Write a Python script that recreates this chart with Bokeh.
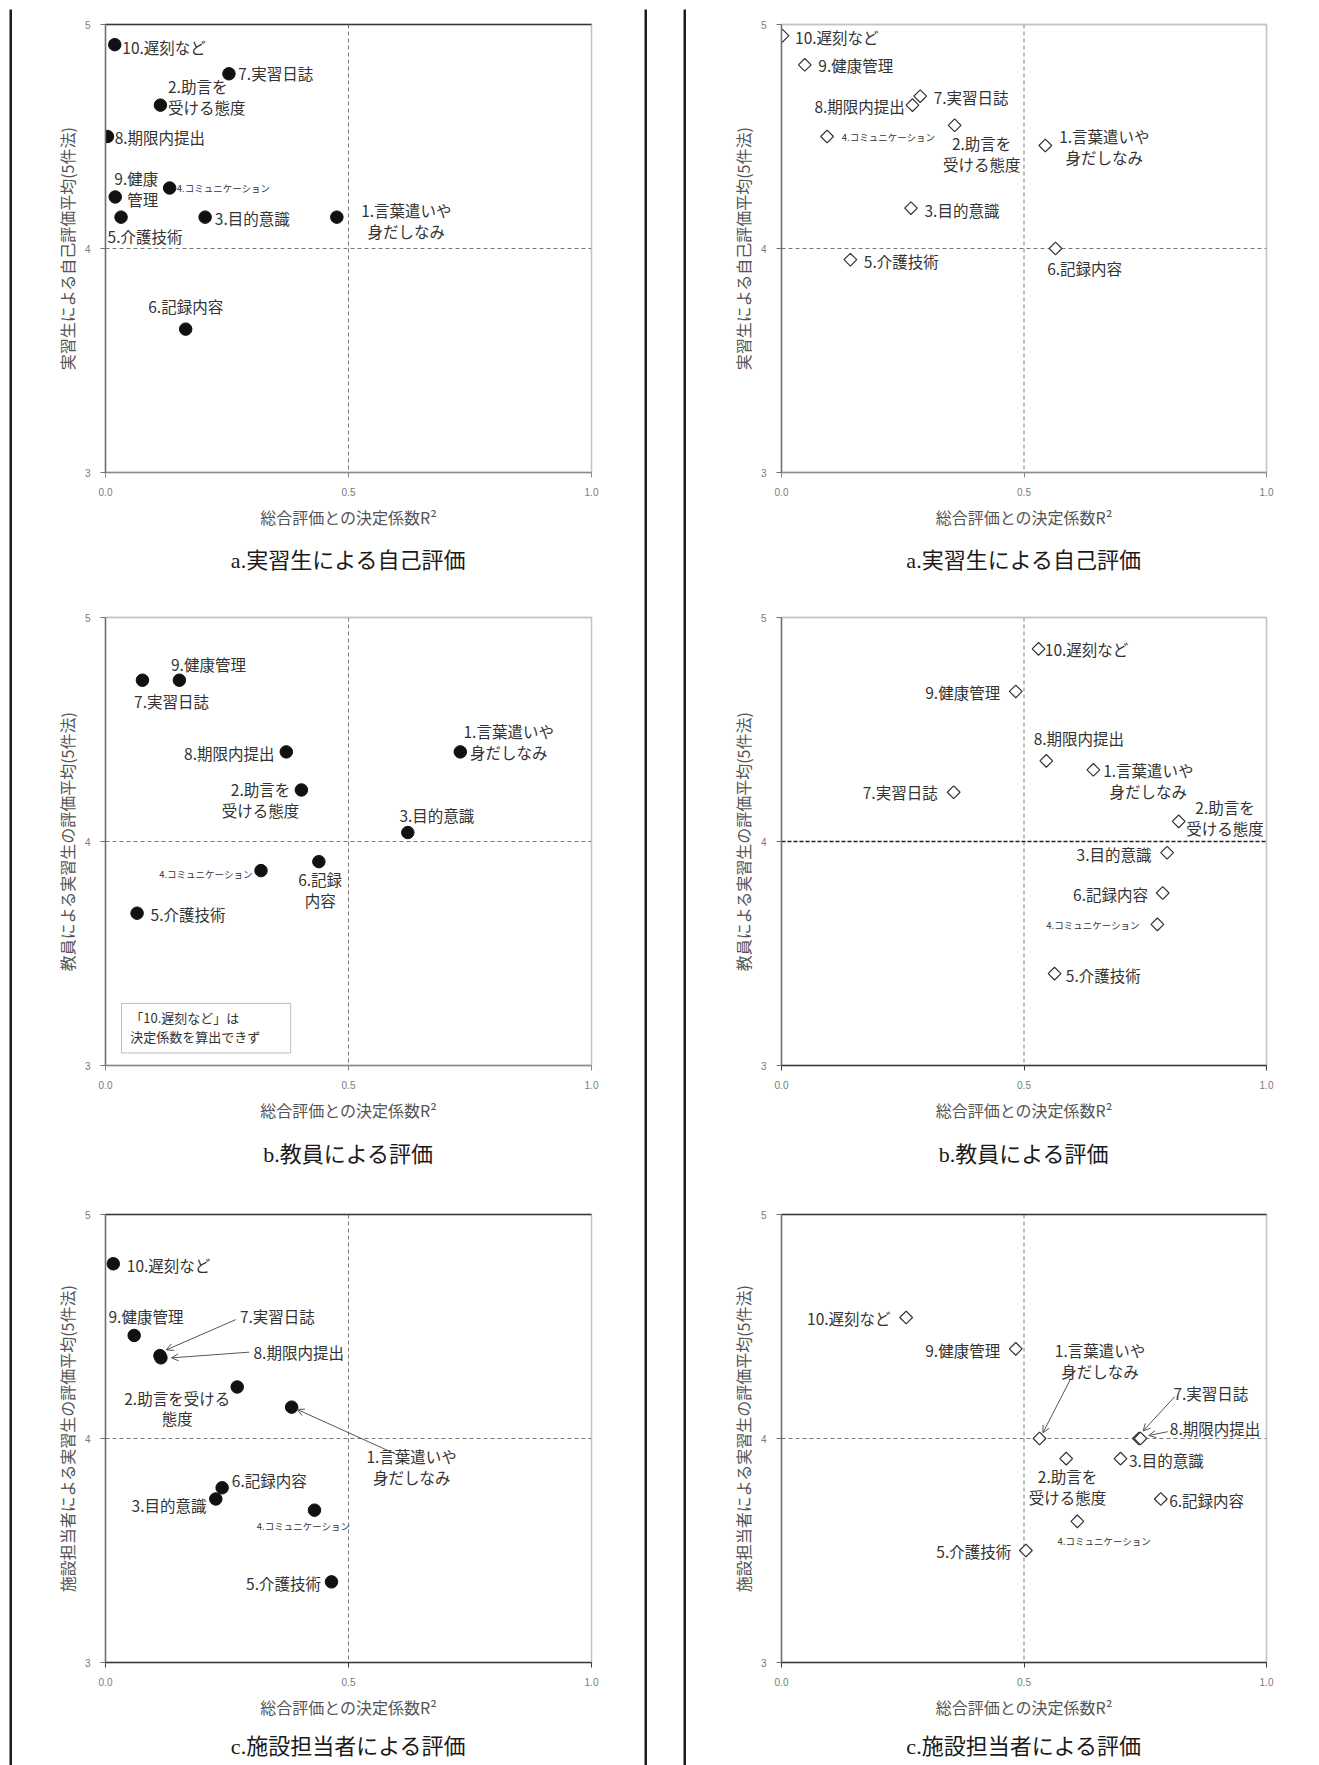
import math
from bokeh.plotting import figure
from bokeh.models import (Range1d, Span, FixedTicker, LinearAxis, Arrow, OpenHead,
                          ColumnDataSource, BoxAnnotation, Spacer, PrintfTickFormatter)
from bokeh.layouts import row, column
from bokeh.core.properties import value, field
from bokeh.embed import file_html
from bokeh.resources import INLINE

# ---------------- data (items 1..10) ----------------
X_TICKS = [0.0, 0.5, 1.0]
Y_TICKS = [3, 4, 5]
THRESH_X = 0.5
THRESH_Y = 4.0

A_L_R2   = [0.476, 0.113, 0.205, 0.132, 0.032, 0.165, 0.254, 0.004, 0.020, 0.019]
A_L_MEAN = [4.14, 4.64, 4.14, 4.27, 4.14, 3.64, 4.78, 4.50, 4.23, 4.91]
A_R_R2   = [0.544, 0.357, 0.267, 0.094, 0.142, 0.565, 0.286, 0.270, 0.048, 0.002]
A_R_MEAN = [4.46, 4.55, 4.18, 4.50, 3.95, 4.00, 4.68, 4.64, 4.82, 4.95]
B_L_R2   = [0.730, 0.403, 0.622, 0.320, 0.065, 0.439, 0.076, 0.372, 0.152, None]
B_L_MEAN = [4.40, 4.23, 4.04, 3.87, 3.68, 3.91, 4.72, 4.40, 4.72, None]
B_R_R2   = [0.643, 0.819, 0.795, 0.775, 0.563, 0.786, 0.355, 0.546, 0.483, 0.530]
B_R_MEAN = [4.32, 4.09, 3.95, 3.63, 3.41, 3.77, 4.22, 4.36, 4.67, 4.86]
C_L_R2   = [0.383, 0.271, 0.227, 0.430, 0.465, 0.240, 0.112, 0.114, 0.059, 0.016]
C_L_MEAN = [4.14, 4.23, 3.73, 3.68, 3.36, 3.78, 4.37, 4.36, 4.46, 4.78]
C_R_R2   = [0.532, 0.587, 0.699, 0.610, 0.504, 0.782, 0.737, 0.740, 0.483, 0.257]
C_R_MEAN = [4.00, 3.91, 3.91, 3.63, 3.50, 3.73, 4.00, 4.00, 4.40, 4.54]

X_LABEL = "総合評価との決定係数R²"
Y_LABEL_A = "実習生による自己評価平均(5件法)"
Y_LABEL_B = "教員による実習生の評価平均(5件法)"
Y_LABEL_C = "施設担当者による実習生の評価平均(5件法)"
CAP_A = "a.実習生による自己評価"
CAP_B = "b.教員による評価"
CAP_C = "c.施設担当者による評価"
NOTE_TEXT = "「10.遅刻など」は\n決定係数を算出できず"

T_STD = ["1.言葉遣いや\n身だしなみ", "2.助言を\n受ける態度", "3.目的意識", "4.コミュニケーション",
         "5.介護技術", "6.記録内容", "7.実習日誌", "8.期限内提出", "9.健康管理", "10.遅刻など"]
T_A_L = list(T_STD); T_A_L[8] = "9.健康\n管理"
T_B_L = list(T_STD); T_B_L[5] = "6.記録\n内容"
T_C_L = list(T_STD); T_C_L[1] = "2.助言を受ける\n態度"

# ---------------- label layout (pixel offsets from the point, alignment) ----------------
OFF_A_L = [(69.5, 3.6, "center"), (7.6, -8.8, "left"), (9.7, 0.8, "left"), (7.2, 0, "left"),
           (-13.5, 18.8, "left"), (0, -23, "center"), (9.3, -1, "left"), (7.2, 0, "left"),
           (43, -8.4, "right"), (7.6, 2.7, "left")]
OFF_A_R = [(59, 1, "center"), (27, 27.8, "center"), (13.5, 2, "left"), (14.7, 0, "left"),
           (13.5, 1, "left"), (-8.4, 19, "left"), (13.5, 1, "left"), (-7.6, 1, "right"),
           (13.5, 0, "left"), (12.6, 1, "left")]
OFF_B_L = [(48.4, -10.5, "center"), (-40.8, 9.2, "center"), (-8.4, -18, "left"), (-8.4, 3, "right"),
           (13.5, 0.4, "left"), (1.3, 27.6, "center"), (-8.4, 20.3, "left"), (-11.8, 0.8, "right"),
           (-8.4, -16, "left"), (0, 0, "left")]
OFF_B_R = [(55, 10.7, "center"), (46.3, -3.6, "center"), (-15.6, 1, "right"), (-17.7, 1, "right"),
           (11.3, 1, "left"), (-14.7, 1, "right"), (-16, 0, "right"), (-12.6, -22.6, "left"),
           (-15.6, 1, "right"), (6.3, 0, "left")]
OFF_C_L = [(120, 59, "center"), (-60, 21, "center"), (-9.3, 5.7, "right"), (-57.7, 16, "left"),
           (-10.5, 0.8, "right"), (9.7, -7.6, "left"), (80, -40, "left"), (92.6, -5.7, "left"),
           (-25.7, -19, "left"), (13.5, 0.8, "left")]
OFF_C_R = [(60.5, -78, "center"), (1.3, 27.5, "center"), (8.4, 1.1, "left"), (-19.8, 19.4, "left"),
           (-14.7, 0.8, "right"), (8.4, 1.1, "left"), (34.5, -45.5, "left"), (29.4, -10.6, "left"),
           (-15.6, 1, "right"), (-15.6, 0, "right")]
# arrows: (item index, start px offset, end px offset)
ARR_C_L = [(0, (103.6, 46.7), (5.5, 2.3)), (6, (75.8, -36), (6.3, -5.7)), (7, (88.4, -5.7), (10.5, 0))]
ARR_C_R = [(0, (30.7, -58.8), (3.4, -5.7)), (6, (35.7, -41.7), (4.2, -7.6)), (7, (27.3, -6.8), (8.4, -3.0))]

NOTE_BOX = dict(left=0.033, right=0.381, top=3.277, bottom=3.056)
NOTE_POS = (0.051, 3.172)

# ---------------- styling / geometry ----------------
JP = "Noto Sans CJK JP"
FRAME_H = 448
# (figure height, min border top) for the three panels, then caption strip heights
PANEL_GEOM = [(531, 15), (551, 38), (549, 36)]
CAP_H = [39, 48, 38]
COLS = {"L": dict(width=632, mbl=93, mbr=53), "R": dict(width=633, mbl=95, mbr=53)}
BOX_H = sum(g[0] for g in PANEL_GEOM) + sum(CAP_H)
LABEL_FS = "15.5px"
SMALL_FS = "9.5px"


def make_panel(col, geom, r2, mean, texts, offs, marker, ylab, top_col, bot_col,
               hdash_dark=False, arrows=None, note=False):
    c = COLS[col]
    ph, mbt = geom
    frame_w = c["width"] - c["mbl"] - c["mbr"]
    p = figure(width=c["width"], height=ph, x_range=Range1d(0, 1), y_range=Range1d(3, 5),
               toolbar_location=None, output_backend="svg",
               min_border_left=c["mbl"], min_border_right=c["mbr"],
               min_border_top=mbt, min_border_bottom=ph - mbt - FRAME_H)
    p.grid.visible = False
    p.background_fill_color = "white"
    p.border_fill_color = "white"
    p.outline_line_color = "#c4c4c4"
    p.outline_line_width = 1.6

    for ax in (p.xaxis[0], p.yaxis[0]):
        ax.major_tick_in = 0
        ax.major_tick_out = 5
        ax.minor_tick_line_color = None
        ax.major_label_text_font = "Liberation Sans"
        ax.major_label_text_font_size = "10px"
        ax.major_label_text_color = "#7a7a7a"
        ax.axis_label_text_font = JP
        ax.axis_label_text_font_size = "16px"
        ax.axis_label_text_font_style = "normal"
        ax.axis_label_text_color = "#555555"
    p.xaxis.axis_line_color = bot_col
    p.xaxis.major_tick_line_color = bot_col
    p.xaxis.axis_line_width = 1.6
    p.yaxis.axis_line_color = "#707070"
    p.yaxis.major_tick_line_color = "#707070"
    p.yaxis.axis_line_width = 1.4
    p.xaxis.ticker = FixedTicker(ticks=X_TICKS)
    p.xaxis.formatter = PrintfTickFormatter(format="%.1f")
    p.yaxis.ticker = FixedTicker(ticks=Y_TICKS)
    p.xaxis.major_label_standoff = 10
    p.xaxis.axis_label_standoff = 6
    p.yaxis.major_label_standoff = 10
    p.yaxis.axis_label_standoff = 3
    p.xaxis.axis_label = X_LABEL
    p.yaxis.axis_label = ylab

    top_ax = LinearAxis(ticker=FixedTicker(ticks=[]), major_label_text_font_size="0px",
                        major_tick_out=0, major_tick_in=0, minor_tick_line_color=None,
                        axis_line_color=top_col, axis_line_width=1.6)
    p.add_layout(top_ax, "above")

    p.add_layout(Span(location=THRESH_X, dimension="height", line_color="#7a7a7a",
                      line_dash="4 3", line_width=1, level="underlay"))
    if hdash_dark:
        p.add_layout(Span(location=THRESH_Y, dimension="width", line_color="#222222",
                          line_dash="4 2", line_width=1.6, level="underlay"))
    else:
        p.add_layout(Span(location=THRESH_Y, dimension="width", line_color="#7a7a7a",
                          line_dash="4 3", line_width=1, level="underlay"))

    keep = [i for i in range(len(r2)) if r2[i] is not None]
    src = ColumnDataSource(dict(
        x=[r2[i] for i in keep], y=[mean[i] for i in keep],
        text=[texts[i] for i in keep],
        dx=[offs[i][0] for i in keep], dy=[offs[i][1] for i in keep],
        align=[offs[i][2] for i in keep],
        fs=[SMALL_FS if i == 3 else LABEL_FS for i in keep]))

    if marker == "circle":
        p.scatter("x", "y", source=src, marker="circle", size=12.5,
                  fill_color="#111111", line_color="#111111")
    else:
        p.scatter("x", "y", source=src, marker="square", angle=math.pi / 4, size=9,
                  fill_color="white", line_color="#333333", line_width=1.2)

    p.text(x="x", y="y", text="text", source=src, x_offset=field("dx"), y_offset=field("dy"),
           text_align=field("align"), text_baseline="middle", text_font=value(JP),
           text_font_size=field("fs"), text_color="#333333", text_line_height=0.95)

    if arrows:
        for i, s, e in arrows:
            p.add_layout(Arrow(end=OpenHead(size=7, line_color="#555555", line_width=1),
                               x_start=r2[i] + s[0] / frame_w, y_start=mean[i] - s[1] * 2 / FRAME_H,
                               x_end=r2[i] + e[0] / frame_w, y_end=mean[i] - e[1] * 2 / FRAME_H,
                               line_color="#555555", line_width=1))
    if note:
        p.add_layout(BoxAnnotation(fill_color=None, fill_alpha=0, line_color="#222222",
                                   line_width=1, **NOTE_BOX))
        p.text(x=[NOTE_POS[0]], y=[NOTE_POS[1]], text=[NOTE_TEXT], text_align="left",
               text_baseline="middle", text_font=value(JP), text_font_size="13px",
               text_color="#333333", text_line_height=1.0)
    return p


def caption_fig(col, h, text):
    f = figure(width=COLS[col]["width"], height=h, toolbar_location=None, output_backend="svg",
               x_range=Range1d(0, 1), y_range=Range1d(0, 1), x_axis_type=None, y_axis_type=None,
               min_border=0, min_border_left=0, min_border_right=0,
               min_border_top=0, min_border_bottom=0)
    f.grid.visible = False
    f.outline_line_color = None
    f.text(x=[0.5], y=[0.5], text=[text], text_align="center", text_baseline="middle",
           text_font=value("'Liberation Serif', 'Noto Sans CJK JP'"), text_font_size="22px",
           text_color="#1a1a1a")
    return f


def bar(w, h):
    f = figure(width=w, height=h, toolbar_location=None, output_backend="svg",
               x_axis_type=None, y_axis_type=None, min_border=0,
               min_border_left=0, min_border_right=0, min_border_top=0, min_border_bottom=0)
    f.grid.visible = False
    f.background_fill_color = "#1c1c1c"
    f.border_fill_color = "#1c1c1c"
    f.outline_line_color = None
    return f


DARK = "#3a3a3a"
LIGHT = "#c4c4c4"
MID = "#8a8a8a"

pa_l = make_panel("L", PANEL_GEOM[0], A_L_R2, A_L_MEAN, T_A_L, OFF_A_L, "circle", Y_LABEL_A, DARK, MID)
pb_l = make_panel("L", PANEL_GEOM[1], B_L_R2, B_L_MEAN, T_B_L, OFF_B_L, "circle", Y_LABEL_B, LIGHT, MID, note=True)
pc_l = make_panel("L", PANEL_GEOM[2], C_L_R2, C_L_MEAN, T_C_L, OFF_C_L, "circle", Y_LABEL_C, DARK, DARK,
                  arrows=ARR_C_L)
pa_r = make_panel("R", PANEL_GEOM[0], A_R_R2, A_R_MEAN, T_STD, OFF_A_R, "diamond", Y_LABEL_A, LIGHT, MID)
pb_r = make_panel("R", PANEL_GEOM[1], B_R_R2, B_R_MEAN, T_STD, OFF_B_R, "diamond", Y_LABEL_B, LIGHT, DARK,
                  hdash_dark=True)
pc_r = make_panel("R", PANEL_GEOM[2], C_R_R2, C_R_MEAN, T_STD, OFF_C_R, "diamond", Y_LABEL_C, DARK, DARK,
                  arrows=ARR_C_R)

left_inner = column(pa_l, caption_fig("L", CAP_H[0], CAP_A), pb_l, caption_fig("L", CAP_H[1], CAP_B),
                    pc_l, caption_fig("L", CAP_H[2], CAP_C))
right_inner = column(pa_r, caption_fig("R", CAP_H[0], CAP_A), pb_r, caption_fig("R", CAP_H[1], CAP_B),
                     pc_r, caption_fig("R", CAP_H[2], CAP_C))

wl = COLS["L"]["width"]
wr = COLS["R"]["width"]
left_box = column(Spacer(width=wl + 6, height=6), bar(wl + 6, 3),
                  row(bar(3, BOX_H), left_inner, bar(3, BOX_H)))
right_box = column(Spacer(width=wr + 3, height=6), bar(wr + 3, 3),
                   row(bar(3, BOX_H), right_inner))
page = row(Spacer(width=9, height=9 + BOX_H), left_box, Spacer(width=36, height=9 + BOX_H), right_box)

open("out.html", "w").write(file_html(page, INLINE))
